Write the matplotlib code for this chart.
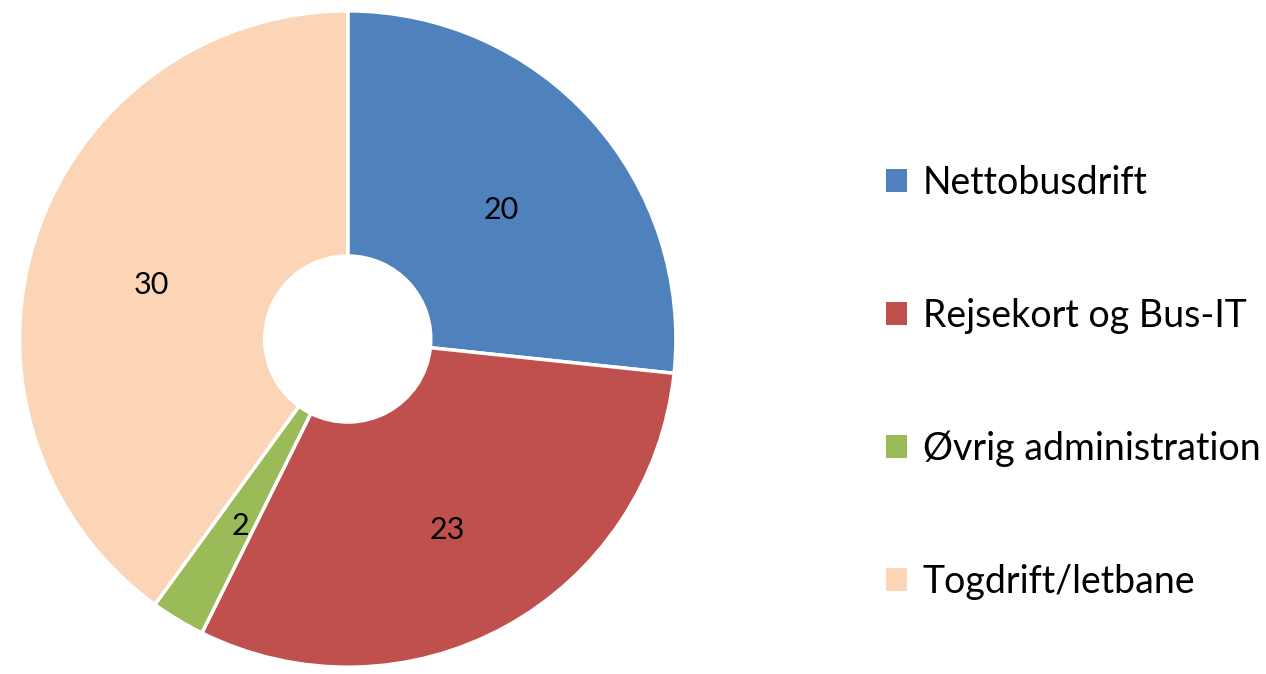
import matplotlib.pyplot as plt
from matplotlib.patches import Patch

plt.rcParams['font.family'] = ['Lato', 'DejaVu Sans']

labels = ["Nettobusdrift", "Rejsekort og Bus-IT", "Øvrig administration", "Togdrift/letbane"]
values = [20, 23, 2, 30]
colors = ["#4F81BD", "#C0504D", "#9BBB59", "#FBD5B5"]

fig = plt.figure(figsize=(12.66, 6.74), dpi=100)
ax = fig.add_axes([0.0142, 0.0075, 0.521, 0.979])

wedges, texts = ax.pie(values, colors=colors, startangle=90, counterclock=False,
                       labels=[str(v) for v in values], labeldistance=0.63,
                       wedgeprops=dict(width=0.747, edgecolor="white", linewidth=2.5),
                       textprops=dict(fontsize=22, color="black", ha="center", va="center_baseline"))
# labels sit a little lower in the original
for t in texts:
    x, y = t.get_position()
    t.set_position((x, y - 0.022))
ax.set_xlim(-1.005, 1.005)
ax.set_ylim(-1.005, 1.005)
ax.set_aspect("equal")

handles = [Patch(facecolor=c, edgecolor="none") for c in colors]
fig.legend(handles, labels, loc="center left", bbox_to_anchor=(0.6998, 0.433),
           frameon=False, fontsize=27, labelspacing=2.58, borderpad=0, borderaxespad=0,
           handlelength=0.56, handleheight=0.56, handletextpad=0.42)

fig.savefig("out.png", dpi=100)
